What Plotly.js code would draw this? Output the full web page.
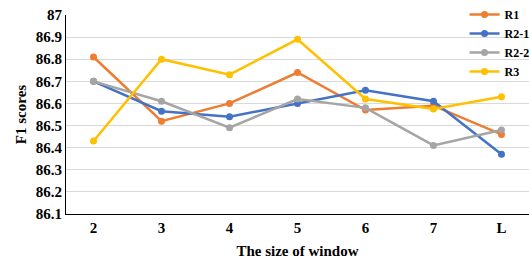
<!DOCTYPE html>
<html><head><meta charset="utf-8">
<script src="https://cdn.plot.ly/plotly-3.0.1.min.js"></script>
<style>html,body{margin:0;padding:0;background:#fff}#chart{width:529px;height:259px}</style>
</head><body><div id="chart"></div>
<script>
var categories = ["2","3","4","5","6","7","L"];
var R1   = [86.81, 86.52, 86.60, 86.74, 86.57, 86.59, 86.46];
var R2_1 = [86.70, 86.565, 86.54, 86.60, 86.66, 86.61, 86.37];
var R2_2 = [86.70, 86.61, 86.49, 86.62, 86.58, 86.41, 86.48];
var R3   = [86.43, 86.80, 86.73, 86.89, 86.62, 86.575, 86.63];
var seriesNames = ["R1","R2-1","R2-2","R3"];
var colors = ["#ED7D31","#4472C4","#A5A5A5","#FFC000"];
var all = [R1, R2_1, R2_2, R3];
var font = "'Times New Roman', 'Liberation Serif', serif";
var traces = all.map(function(v,i){
  return {x: categories, y: v, name: seriesNames[i], type:'scatter', mode:'lines+markers',
    line:{color:colors[i], width:2.5}, marker:{color:colors[i], size:7}};
});
var layout = {
  width:529, height:259,
  margin:{l:66, r:0, t:15, b:45, autoexpand:false},
  paper_bgcolor:'#fff', plot_bgcolor:'#fff',
  font:{family:font, color:'#000'},
  showlegend:true,
  legend:{x:1.012, y:1.075, xanchor:'right', yanchor:'top', bgcolor:'rgba(0,0,0,0)',
    font:{family:font, size:12, weight:'bold'}, tracegroupgap:0, itemwidth:30},
  xaxis:{type:'category', showgrid:false, showline:true, linecolor:'#000', linewidth:1,
    ticks:'', automargin:false, tickfont:{family:font, size:15, weight:'bold'},
    title:{text:'The size of window', font:{family:font, size:15, weight:'bold'}}},
  yaxis:{range:[86.1, 87], dtick:0.1, tick0:86.1, showgrid:true, gridcolor:'#d9d9d9', gridwidth:1,
    showline:true, linecolor:'#000', linewidth:1, ticks:'', zeroline:false, automargin:false,
    tickfont:{family:font, size:15, weight:'bold'},
    title:{text:'F1 scores', font:{family:font, size:15, weight:'bold'}}}
};
Plotly.newPlot('chart', traces, layout, {staticPlot:true, displayModeBar:false});
</script></body></html>
